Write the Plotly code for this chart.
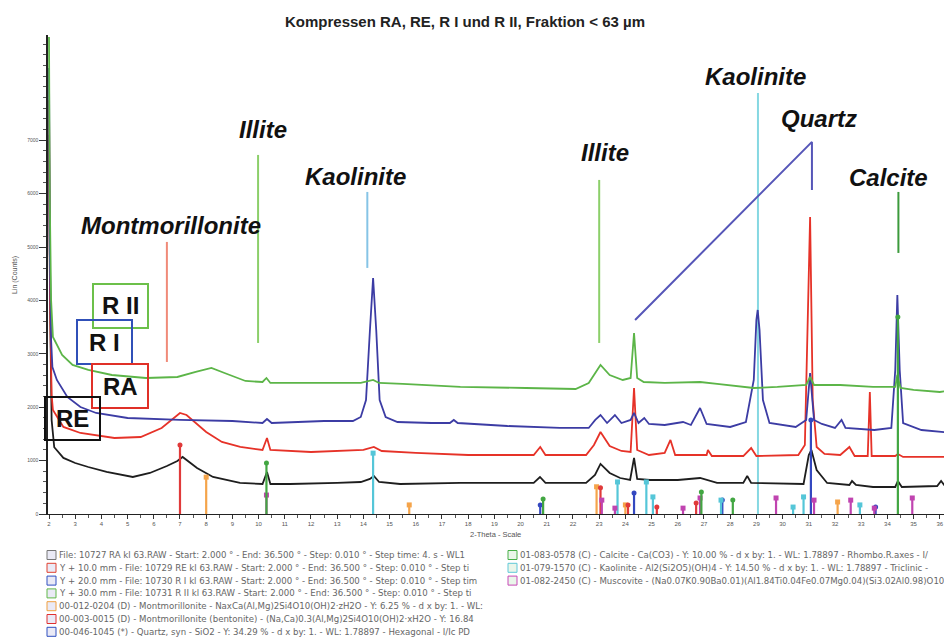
import plotly.graph_objects as go

# ---------------- sample diffractograms (2-Theta in degrees, Lin counts) ----------------
re_theta = [2.00, 2.04, 2.10, 2.20, 2.55, 3.0, 3.5, 4.2, 5.2, 5.85, 6.5, 6.9, 7.1, 7.3, 7.65, 8.26, 9.29,
            10.15, 10.32, 10.45, 11.2, 13.0, 13.9, 14.25, 14.4, 14.6, 15.4, 17.7, 20.5, 20.74, 20.95,
            22.5, 22.84, 23.05, 23.4, 23.8, 24.18, 24.33, 24.45, 24.94, 26.0, 26.85, 27.5, 28.5, 28.65,
            28.8, 30.8, 31.0, 31.1, 31.3, 31.7, 32.55, 32.65, 32.8, 33.45, 34.3, 34.4, 34.55, 35.9, 36.05,
            36.2, 36.5]
re_counts = [7100, 4000, 1760, 1250, 1050, 955, 880, 787, 693, 768, 899, 993, 1068, 993, 862, 693, 581,
             562, 787, 562, 562, 581, 599, 656, 712, 599, 562, 581, 581, 693, 581,
             581, 730, 937, 768, 674, 637, 1049, 656, 637, 637, 674, 581, 581, 712,
             581, 562, 1105, 1199, 824, 581, 543, 618, 543, 506, 506, 618, 506, 524, 618,
             524, 524]

ra_theta = [2.00, 2.04, 2.10, 2.15, 2.55, 3.2, 4.5, 5.5, 6.3, 6.75, 7.0, 7.25, 7.55, 8.0, 8.6, 9.3,
            10.15, 10.32, 10.45, 12.0, 14.0, 14.4, 14.7, 16.0, 18.0, 20.5, 20.75, 20.95, 22.5, 22.8,
            23.05, 23.4, 23.85, 24.2, 24.33, 24.45, 24.9, 25.5, 25.72, 25.9, 27.1, 27.15, 27.3, 28.5,
            28.8, 29.0, 30.6, 30.85, 31.05, 31.15, 31.3, 31.6, 32.2, 32.55, 32.75, 33.25, 33.33, 33.4,
            34.3, 34.4, 34.6, 36.5]
ra_counts = [7750, 4000, 2229, 1948, 1630, 1517, 1423, 1442, 1611, 1798, 1892, 1854, 1723, 1536, 1349, 1255,
             1199, 1423, 1199, 1161, 1199, 1255, 1180, 1143, 1105, 1105, 1255, 1105, 1105, 1292,
             1536, 1274, 1180, 1161, 2360, 1199, 1105, 1143, 1386, 1105, 1105, 1199, 1086, 1086,
             1236, 1086, 1105, 1292, 5563, 2135, 1255, 1124, 1105, 1255, 1086, 1086, 2285, 1086,
             1086, 1124, 1068, 1068]

ri_theta = [2.00, 2.03, 2.08, 2.13, 2.3, 2.7, 3.2, 3.8, 5.0, 7.0, 9.0, 10.15, 10.32, 10.5, 12.5,
            13.6, 13.9, 14.1, 14.25, 14.37, 14.49, 14.62, 14.85, 15.3, 16.6, 17.3, 17.45, 17.6, 19.5,
            21.5, 22.6, 22.85, 23.05, 23.3, 23.6, 23.85, 24.2, 24.33, 24.5, 24.72, 24.9, 25.5, 26.2,
            26.5, 26.85, 27.1, 28.0, 28.6, 28.9, 29.0, 29.05, 29.12, 29.25, 29.5, 30.5, 30.9, 31.05,
            31.2, 31.5, 32.0, 32.25, 32.4, 33.5, 34.15, 34.3, 34.38, 34.47, 34.6, 35.3, 36.5]
ri_counts = [8354, 4945, 3259, 2753, 2510, 2191, 2004, 1892, 1798, 1761, 1742, 1704, 1779, 1704, 1742,
             1742, 1817, 2135, 3446, 4420, 3446, 2135, 1817, 1723, 1704, 1704, 1761, 1704, 1648,
             1611, 1611, 1761, 1854, 1704, 1854, 1704, 1761, 1892, 1704, 1798, 1686, 1667, 1723,
             1667, 1985, 1686, 1630, 1723, 2510, 3634, 3821, 3446, 2135, 1704, 1630, 1761, 2641,
             1761, 1686, 1611, 1761, 1611, 1573, 1611, 2697, 4102, 2697, 1704, 1573, 1517]

rii_theta = [2.00, 2.03, 2.08, 2.15, 2.5, 2.9, 3.5, 4.4, 5.7, 6.9, 7.6, 8.2, 8.7, 9.5, 10.15, 10.3,
             10.45, 12.0, 13.9, 14.37, 14.6, 15.5, 17.7, 20.2, 22.1, 22.6, 23.05, 23.4, 23.9, 24.2,
             24.33, 24.45, 24.7, 25.5, 26.85, 27.5, 28.9, 29.8, 30.9, 31.05, 31.2, 32.2, 33.45, 34.3,
             34.38, 34.5, 35.0, 36.0, 36.5]
rii_counts = [8934, 5881, 4008, 3315, 2978, 2791, 2697, 2603, 2547, 2566, 2660, 2735, 2641, 2491, 2472, 2547,
              2454, 2454, 2454, 2510, 2454, 2435, 2379, 2360, 2341, 2454, 2791, 2603, 2510, 2547,
              3390, 2547, 2472, 2454, 2472, 2435, 2360, 2379, 2416, 2566, 2416, 2416, 2379, 2379,
              2603, 2360, 2323, 2285, 2323]

# ---------------- reference stick patterns (2-Theta, scaled counts) ----------------
montm_pos = [8.0, 15.75, 22.9, 24.0, 32.1]
montm_int = [690, 170, 510, 170, 225]
bent_pos = [7.0, 23.05, 24.1, 25.2, 26.7]
bent_int = [1290, 490, 170, 130, 205]
quartz_pos = [20.75, 24.33, 27.7, 31.08, 33.55]
quartz_int = [170, 395, 260, 1760, 130]
calcite_pos = [10.3, 20.86, 26.9, 28.1, 34.4]
calcite_int = [955, 280, 410, 260, 3690]
kaol_pos = [14.37, 23.7, 24.8, 25.05, 27.65, 30.4, 30.8, 32.95]
kaol_int = [1140, 600, 600, 320, 260, 130, 320, 170]
musc_pos = [10.3, 23.1, 23.6, 26.2, 26.85, 29.75, 31.2, 32.6, 33.5, 34.95]
musc_int = [355, 260, 110, 110, 300, 300, 260, 260, 110, 300]

# ---------------- peak labels ----------------
label_names = ["Montmorillonite", "Illite", "Kaolinite", "Illite", "Kaolinite", "Quartz", "Calcite"]
label_theta = [6.66, 10.17, 13.68, 23.22, 28.98, 31.39, 34.06]
label_counts = [5394, 7192, 6312, 6762, 8185, 7398, 6293]

# marker lines: (theta list, counts list, colour)
marker_lines = [
    ([6.5, 6.5], [2847, 5095], "#f08a78"),
    ([9.98, 9.98], [3203, 6724], "#8ccf6a"),
    ([14.15, 14.15], [4608, 6031], "#86c4e6"),
    ([23.0, 23.0], [3203, 6256], "#8ccf6a"),
    ([29.06, 29.06], [0, 7885], "#86d8e2"),
    ([24.37, 31.12, 31.12], [3634, 6968, 6069], "#5656b8"),
    ([34.42, 34.42], [4889, 6031], "#3c9a3c"),
]

Y_TICKS = [0, 1000, 2000, 3000, 4000, 5000, 6000, 7000]
X_TICKS = list(range(2, 37))

FONT = "Liberation Sans, Arial, sans-serif"
SMALL_FONT = "DejaVu Sans, Verdana, sans-serif"

fig = go.Figure()

for xs, ys, col in marker_lines:
    fig.add_trace(go.Scatter(x=xs, y=ys, mode="lines", line=dict(color=col, width=2),
                             hoverinfo="skip", showlegend=False))

for th, ct, col in [(re_theta, re_counts, "#1e1e1e"), (ra_theta, ra_counts, "#e63228"),
                    (ri_theta, ri_counts, "#3c3ca4"), (rii_theta, rii_counts, "#5cb548")]:
    fig.add_trace(go.Scatter(x=th, y=ct, mode="lines", line=dict(color=col, width=1.8),
                             showlegend=False))


def sticks(pos, inten, col, sym):
    xs, ys = [], []
    for p, v in zip(pos, inten):
        xs += [p, p, None]
        ys += [0, v, None]
    fig.add_trace(go.Scatter(x=xs, y=ys, mode="lines", line=dict(color=col, width=2.2),
                             hoverinfo="skip", showlegend=False))
    fig.add_trace(go.Scatter(x=pos, y=inten, mode="markers",
                             marker=dict(color=col, size=5, symbol=sym), showlegend=False))


sticks(montm_pos, montm_int, "#f5a44a", "square")
sticks(bent_pos, bent_int, "#e03a3a", "circle")
sticks(quartz_pos, quartz_int, "#3448c0", "circle")
sticks(kaol_pos, kaol_int, "#55c6d8", "square")
sticks(musc_pos, musc_int, "#c044b0", "square")
sticks(calcite_pos, calcite_int, "#42a642", "circle")


def PX(px):
    return (px - 48) / 904


def PY(py):
    return (514 - py) / 479


ann = []
for name, th, ct in zip(label_names, label_theta, label_counts):
    ann.append(dict(x=th, y=ct, xref="x", yref="y", text="<b><i>%s</i></b>" % name, showarrow=False,
                    xanchor="center", yanchor="middle",
                    font=dict(family=FONT, size=24, color="#111")))

# sample boxes
boxes = [("R II", 93, 148, 284, 328, "#6cc04a"), ("R I", 77, 132, 320, 364, "#3050b8"),
         ("RA", 92, 148, 364, 408, "#e03028"), ("RE", 45, 100, 397, 440, "#111111")]
shapes = []
for txt, x0, x1, y0, y1, col in boxes:
    shapes.append(dict(type="rect", xref="paper", yref="paper", x0=PX(x0), x1=PX(x1), y0=PY(y1), y1=PY(y0),
                       line=dict(color=col, width=2), fillcolor="rgba(255,255,255,0)", layer="above"))
    ann.append(dict(x=PX((x0 + x1) / 2), y=PY((y0 + y1) / 2), xref="paper", yref="paper",
                    text="<b>%s</b>" % txt, showarrow=False, xanchor="center", yanchor="middle",
                    font=dict(family=FONT, size=24, color="#111")))

# title
ann.append(dict(x=PX(465), y=PY(22), xref="paper", yref="paper", xanchor="center", yanchor="middle",
                text="<b>Kompressen RA, RE, R I und R II, Fraktion < 63 µm</b>", showarrow=False,
                font=dict(family=FONT, size=15, color="#222")))
# axis titles
ann.append(dict(x=PX(495), y=PY(534), xref="paper", yref="paper", text="2-Theta - Scale",
                xanchor="center", yanchor="middle",
                showarrow=False, font=dict(family=FONT, size=7.5, color="#555")))
ann.append(dict(x=PX(15), y=PY(275), xref="paper", yref="paper", text="Lin (Counts)", textangle=-90,
                xanchor="center", yanchor="middle",
                showarrow=False, font=dict(family=FONT, size=7, color="#555")))

# bottom legend text
left_lines = [
    "File: 10727 RA kl 63.RAW - Start: 2.000 ° - End: 36.500 ° - Step: 0.010 ° - Step time: 4. s - WL1",
    "Y + 10.0 mm - File: 10729 RE kl 63.RAW - Start: 2.000 ° - End: 36.500 ° - Step: 0.010 ° - Step ti",
    "Y + 20.0 mm - File: 10730 R I kl 63.RAW - Start: 2.000 ° - End: 36.500 ° - Step: 0.010 ° - Step tim",
    "Y + 30.0 mm - File: 10731 R II kl 63.RAW - Start: 2.000 ° - End: 36.500 ° - Step: 0.010 ° - Step ti",
    "00-012-0204 (D) - Montmorillonite - NaxCa(Al,Mg)2Si4O10(OH)2·zH2O - Y: 6.25 % - d x by: 1. - WL:",
    "00-003-0015 (D) - Montmorillonite (bentonite) - (Na,Ca)0.3(Al,Mg)2Si4O10(OH)2·xH2O - Y: 16.84",
    "00-046-1045 (*) - Quartz, syn - SiO2 - Y: 34.29 % - d x by: 1. - WL: 1.78897 - Hexagonal - I/Ic PD",
]
left_cols = ["#777777", "#e04030", "#3050c0", "#60b848", "#f0a040", "#e03030", "#3050c0"]
right_lines = [
    "01-083-0578 (C) - Calcite - Ca(CO3) - Y: 10.00 % - d x by: 1. - WL: 1.78897 - Rhombo.R.axes - I/",
    "01-079-1570 (C) - Kaolinite - Al2(Si2O5)(OH)4 - Y: 14.50 % - d x by: 1. - WL: 1.78897 - Triclinic -",
    "01-082-2450 (C) - Muscovite - (Na0.07K0.90Ba0.01)(Al1.84Ti0.04Fe0.07Mg0.04)(Si3.02Al0.98)O10",
]
right_cols = ["#48b048", "#60c8d8", "#c848b8"]

for i, (t, c) in enumerate(zip(left_lines, left_cols)):
    py = 555 + 12.8 * i
    shapes.append(dict(type="rect", xref="paper", yref="paper", x0=PX(47), x1=PX(56), y0=PY(py + 4.5),
                       y1=PY(py - 4.5), line=dict(color=c, width=1), fillcolor="rgba(220,220,240,0.6)"))
    ann.append(dict(x=PX(57), y=PY(py), xref="paper", yref="paper", text=t, showarrow=False,
                    xanchor="left", yanchor="middle", font=dict(family=SMALL_FONT, size=8.6, color="#666")))
for i, (t, c) in enumerate(zip(right_lines, right_cols)):
    py = 555 + 12.8 * i
    shapes.append(dict(type="rect", xref="paper", yref="paper", x0=PX(508), x1=PX(517), y0=PY(py + 4.5),
                       y1=PY(py - 4.5), line=dict(color=c, width=1), fillcolor="rgba(220,240,220,0.6)"))
    ann.append(dict(x=PX(518), y=PY(py), xref="paper", yref="paper", text=t, showarrow=False,
                    xanchor="left", yanchor="middle", font=dict(family=SMALL_FONT, size=8.6, color="#666")))

# page body has an 8 px margin, so the plot area is laid out 8 px up/left of its window position
fig.update_layout(
    width=952, height=640,
    margin=dict(l=40, r=8, t=27, b=134),
    paper_bgcolor="white", plot_bgcolor="white",
    font=dict(family=FONT),
    annotations=ann, shapes=shapes,
    showlegend=False,
)
fig.update_xaxes(range=[1.962, 36.466], tickvals=X_TICKS, ticktext=[str(v) for v in X_TICKS],
                 showgrid=False, zeroline=False, showline=True, linecolor="#222", linewidth=1,
                 ticks="outside", ticklen=4, tickcolor="#333", tickfont=dict(size=6, color="#555"),
                 minor=dict(dtick=0.5, tick0=2, ticks="outside", ticklen=3, tickcolor="#555"))
fig.update_yaxes(range=[0, 8970], tickvals=Y_TICKS, ticktext=[str(v) for v in Y_TICKS],
                 showgrid=False, zeroline=False, showline=True, linecolor="#222", linewidth=1.5,
                 ticks="outside", ticklen=7, tickcolor="#333", tickfont=dict(size=5, color="#555"),
                 minor=dict(dtick=200, ticks="outside", ticklen=3, tickcolor="#555"))

fig.write_html("out.html")
